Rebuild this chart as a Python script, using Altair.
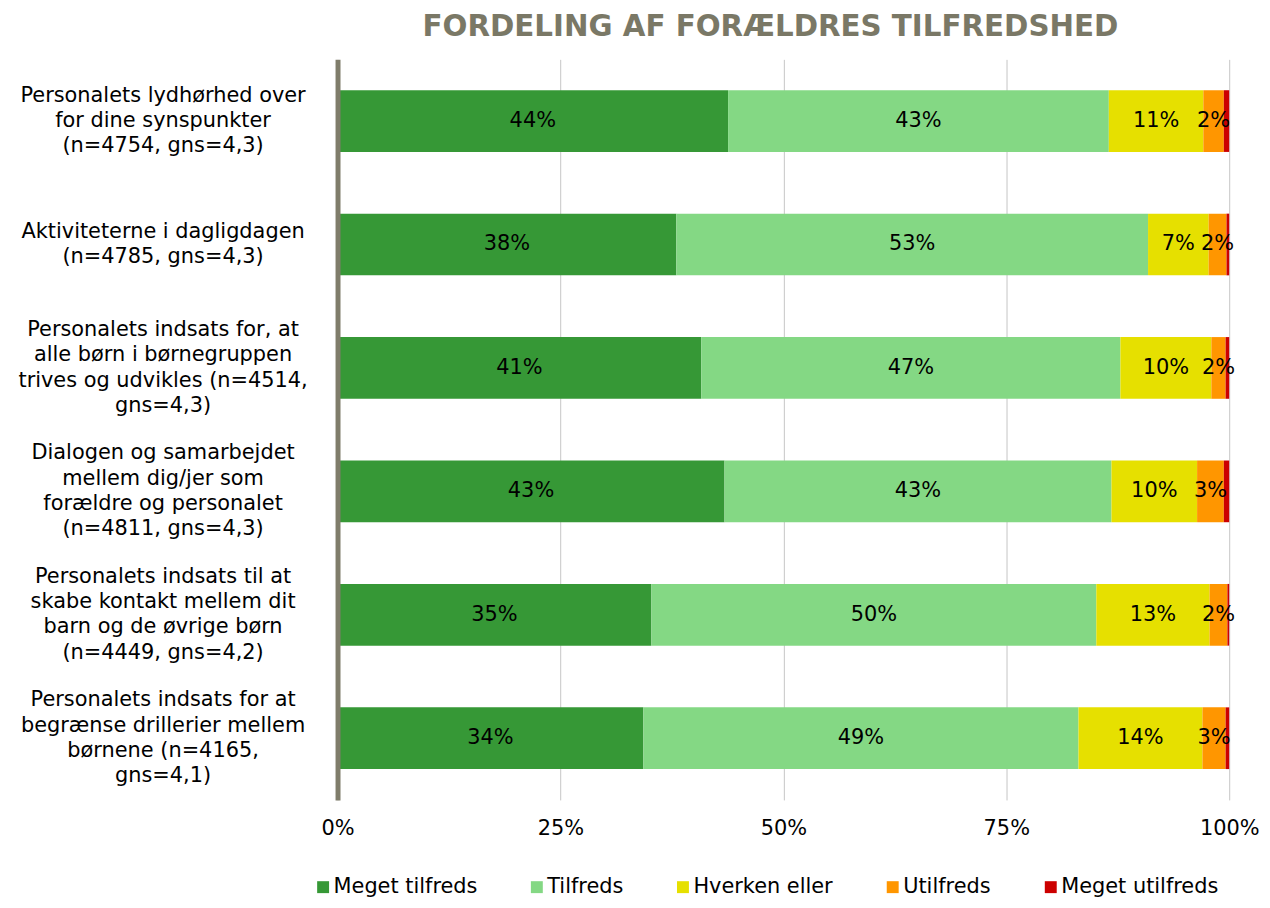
import altair as alt
import pandas as pd

questions = [
    "Personalets lydhørhed over|for dine synspunkter|(n=4754, gns=4,3)",
    "Aktiviteterne i dagligdagen|(n=4785, gns=4,3)",
    "Personalets indsats for, at|alle børn i børnegruppen|trives og udvikles (n=4514,|gns=4,3)",
    "Dialogen og samarbejdet|mellem dig/jer som|forældre og personalet|(n=4811, gns=4,3)",
    "Personalets indsats til at|skabe kontakt mellem dit|barn og de øvrige børn|(n=4449, gns=4,2)",
    "Personalets indsats for at|begrænse drillerier mellem|børnene (n=4165,|gns=4,1)",
]
categories = ["Meget tilfreds", "Tilfreds", "Hverken eller", "Utilfreds", "Meget utilfreds"]
colors = ["#369836", "#84d884", "#e6e000", "#ff9600", "#cc0000"]

meget_tilfreds = [43.8, 38.0, 40.8, 43.4, 35.2, 34.3]
tilfreds = [42.7, 52.9, 47.0, 43.4, 49.9, 48.8]
hverken_eller = [10.6, 6.8, 10.2, 9.6, 12.7, 13.9]
utilfreds = [2.3, 2.0, 1.6, 3.0, 2.0, 2.6]
meget_utilfreds = [0.6, 0.3, 0.4, 0.6, 0.2, 0.4]

series = [meget_tilfreds, tilfreds, hverken_eller, utilfreds, meget_utilfreds]
rows = []
for ci, (cat, vals) in enumerate(zip(categories, series)):
    for q, v in zip(questions, vals):
        rows.append({"question": q, "category": cat, "value": v, "order": ci})
df = pd.DataFrame(rows)

FONT = "DejaVu Sans"
LH = 25.5
x_scale = alt.Scale(domain=[0, 100], nice=False)
y_scale = alt.Scale(paddingInner=0.5, paddingOuter=0.25)

# shift multi-line labels up so each block is centred on its bar
label_offset = {
    "condition": [
        {"test": "indexof(datum.label, 'dagligdagen') >= 0", "value": -LH / 2},
        {"test": "indexof(datum.label, 'synspunkter') >= 0", "value": -LH},
    ],
    "value": -1.5 * LH,
}

y_axis = alt.Axis(
    title=None,
    labelExpr="split(datum.label, '|')",
    labelAlign="center",
    labelBaseline="middle",
    labelPadding=176,
    labelOffset=label_offset,
    labelFontSize=21,
    labelLineHeight=LH,
    labelColor="black",
    labelFont=FONT,
    labelLimit=0,
    ticks=False,
    tickSize=0,
    domainColor="#7f7d6b",
    domainWidth=5,
    grid=False,
    zindex=1,
)
x_axis = alt.Axis(
    title=None,
    values=[0, 25, 50, 75, 100],
    labelExpr="datum.value + '%'",
    labelFlush=False,
    ticks=False,
    tickSize=0,
    domain=False,
    grid=True,
    gridColor="#c6c6c6",
    gridWidth=1,
    labelFontSize=21,
    labelPadding=18,
    labelColor="black",
    labelFont=FONT,
    zindex=0,
)

base = alt.Chart(df)

bars = base.mark_bar().encode(
    y=alt.Y("question:N", sort=questions, scale=y_scale, axis=y_axis),
    x=alt.X("value:Q", stack="zero", scale=x_scale, axis=x_axis),
    color=alt.Color(
        "category:N",
        sort=categories,
        scale=alt.Scale(domain=categories, range=colors),
        legend=alt.Legend(
            title=None,
            orient="none",
            legendX=-25,
            legendY=822,
            direction="horizontal",
            symbolType="square",
            symbolSize=144,
            symbolStrokeWidth=0,
            labelFontSize=21,
            labelFont=FONT,
            labelColor="black",
            columnPadding=49,
            labelOffset=0,
            padding=0,
        ),
    ),
    order=alt.Order("order:Q"),
)

texts = (
    base.transform_stack(
        stack="value",
        as_=["x0", "x1"],
        groupby=["question"],
        sort=[alt.SortField("order", order="ascending")],
    )
    .transform_calculate(
        mid="(datum.x0 + datum.x1) / 2",
        label="format(datum.value, '.0f') + '%'",
    )
    .transform_filter("datum.category != 'Meget utilfreds'")
    .mark_text(font=FONT, fontSize=21, color="black", baseline="middle", align="center")
    .encode(
        x=alt.X("mid:Q", scale=x_scale, axis=x_axis),
        y=alt.Y("question:N", sort=questions, scale=y_scale, axis=y_axis),
        text="label:N",
    )
)

chart = (
    alt.layer(bars, texts)
    .properties(
        width=897,
        height=745,
        padding={"left": 331.5, "top": 49, "right": 33, "bottom": 98},
        autosize=alt.AutoSizeParams(type="none"),
        title=alt.TitleParams(
            text="FORDELING AF FORÆLDRES TILFREDSHED",
            font=FONT,
            fontSize=29.5,
            fontWeight="bold",
            color="#7a7866",
            anchor="middle",
            frame="group",
            offset=17,
            dx=-13,
        ),
    )
    .configure_view(stroke=None)
)

chart.save("out.html", embed_options={"renderer": "svg", "actions": False})
